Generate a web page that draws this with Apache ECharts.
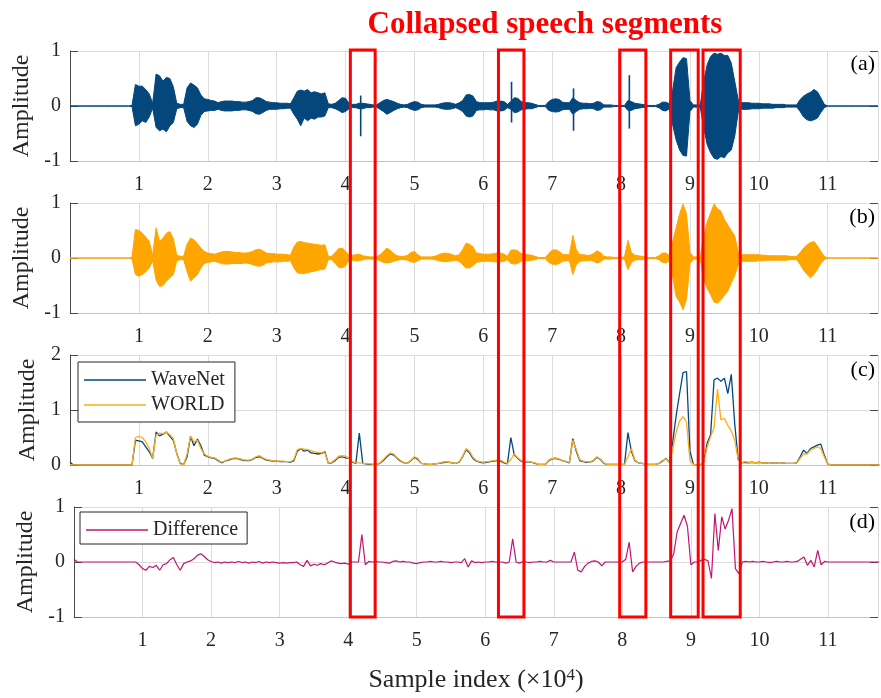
<!DOCTYPE html>
<html>
<head>
<meta charset="utf-8">
<script src="https://cdn.jsdelivr.net/npm/echarts@6/dist/echarts.min.js"></script>
<style>
  html, body { margin: 0; padding: 0; background: #fff; }
  #chart { width: 881px; height: 698px; }
</style>
</head>
<body>
<div id="chart"></div>
<script>
// Envelopes and curves are sampled every STEP (in units of 10^4 samples), starting at 0.
const STEP = 0.05;
const X_MAX = 11.73;

// (a) WaveNet waveform: upper / lower envelope
const A_TOP = [
  0,0,0,0,0,0,0,0,0,0,0,0,0,0,0,0,0,0,0.01,0.39,
  0.36,0.36,0.30,0.22,0.05,0.58,0.55,0.45,0.52,0.50,0.35,0.05,0.03,0.03,0.33,0.42,0.38,0.33,0.20,0.13,
  0.12,0.10,0.09,0.06,0.08,0.09,0.09,0.09,0.08,0.08,0.07,0.07,0.08,0.10,0.15,0.15,0.12,0.08,0.07,0.06,
  0.06,0.05,0.05,0.05,0.04,0.15,0.27,0.29,0.27,0.30,0.24,0.26,0.24,0.22,0.24,0.04,0.03,0.05,0.10,0.15,
  0.14,0.05,0.03,0.03,0.05,0.05,0.04,0.03,0.02,0.02,0.06,0.10,0.12,0.10,0.08,0.05,0.03,0.02,0.03,0.06,
  0.08,0.07,0.03,0.02,0.02,0.02,0.02,0.03,0.05,0.06,0.06,0.05,0.03,0.06,0.10,0.20,0.21,0.18,0.08,0.06,
  0.06,0.06,0.06,0.07,0.09,0.09,0.08,0.03,0.08,0.15,0.14,0.08,0.06,0.06,0.05,0.03,0.01,0.01,0.01,0.08,
  0.12,0.13,0.12,0.07,0.06,0.06,0.15,0.10,0.06,0.05,0.05,0.04,0.05,0.08,0.07,0.02,0.02,0.02,0.01,0.01,
  0.01,0.01,0.10,0.08,0.05,0.04,0.03,0.02,0.01,0.01,0.01,0.03,0.07,0.07,0.04,0.30,0.70,0.80,0.88,0.86,
  0.10,0.02,0.02,0.02,0.45,0.75,0.90,0.96,0.94,0.96,0.92,0.92,0.78,0.45,0.12,0.06,0.06,0.06,0.05,0.05,
  0.05,0.04,0.04,0.04,0.03,0.03,0.03,0.03,0.02,0.02,0.02,0.02,0.12,0.18,0.22,0.25,0.30,0.26,0.15,0.03,
  0,0,0,0,0,0,0,0,0,0,0,0,0,0,0,0
];
const A_BOT = [
  0,0,0,0,0,0,0,0,0,0,0,0,0,0,0,0,0,0,-0.01,-0.36,
  -0.33,-0.27,-0.30,-0.20,-0.04,-0.39,-0.45,-0.42,-0.47,-0.36,-0.30,-0.05,-0.03,-0.03,-0.28,-0.36,-0.39,-0.33,-0.17,-0.10,
  -0.09,-0.08,-0.08,-0.06,-0.08,-0.09,-0.09,-0.09,-0.08,-0.08,-0.07,-0.07,-0.08,-0.10,-0.14,-0.15,-0.12,-0.08,-0.06,-0.06,
  -0.06,-0.05,-0.05,-0.04,-0.04,-0.15,-0.24,-0.36,-0.22,-0.27,-0.22,-0.24,-0.20,-0.20,-0.18,-0.03,-0.03,-0.05,-0.08,-0.12,
  -0.10,-0.05,-0.03,-0.03,-0.05,-0.05,-0.03,-0.03,-0.02,-0.02,-0.06,-0.10,-0.15,-0.12,-0.08,-0.05,-0.03,-0.02,-0.03,-0.06,
  -0.08,-0.07,-0.03,-0.02,-0.02,-0.02,-0.02,-0.03,-0.05,-0.06,-0.06,-0.05,-0.03,-0.06,-0.10,-0.18,-0.20,-0.18,-0.08,-0.07,
  -0.07,-0.06,-0.07,-0.07,-0.09,-0.09,-0.08,-0.03,-0.06,-0.12,-0.11,-0.07,-0.06,-0.05,-0.05,-0.03,-0.01,-0.01,-0.01,-0.08,
  -0.10,-0.11,-0.10,-0.07,-0.06,-0.06,-0.15,-0.10,-0.06,-0.05,-0.05,-0.04,-0.05,-0.08,-0.07,-0.02,-0.02,-0.02,-0.01,-0.01,
  -0.01,-0.01,-0.08,-0.08,-0.05,-0.04,-0.03,-0.02,-0.01,-0.01,-0.01,-0.03,-0.08,-0.09,-0.05,-0.35,-0.62,-0.80,-0.90,-0.91,
  -0.10,-0.02,-0.02,-0.02,-0.40,-0.70,-0.85,-0.95,-0.97,-0.92,-0.94,-0.85,-0.80,-0.55,-0.12,-0.06,-0.06,-0.06,-0.05,-0.05,
  -0.05,-0.04,-0.04,-0.04,-0.04,-0.03,-0.03,-0.03,-0.02,-0.02,-0.02,-0.02,-0.10,-0.20,-0.25,-0.27,-0.25,-0.22,-0.12,-0.03,
  0,0,0,0,0,0,0,0,0,0,0,0,0,0,0,0
];
// (a) isolated clicks: position, peak, trough
const A_CLICK_X = [4.22, 6.41, 7.31, 8.12];
const A_CLICK_TOP = [0.19, 0.44, 0.32, 0.56];
const A_CLICK_BOT = [-0.55, -0.30, -0.45, -0.41];

// (b) WORLD waveform: upper / lower envelope
const B_TOP = [
  0,0,0,0,0,0,0,0,0,0,0,0,0,0,0,0,0,0,0.01,0.52,
  0.50,0.45,0.38,0.30,0.05,0.55,0.30,0.36,0.45,0.48,0.35,0.05,0.03,0.03,0.25,0.36,0.33,0.26,0.18,0.12,
  0.09,0.08,0.07,0.09,0.11,0.12,0.12,0.11,0.10,0.10,0.09,0.09,0.10,0.12,0.15,0.16,0.13,0.09,0.08,0.08,
  0.07,0.07,0.07,0.06,0.05,0.20,0.29,0.30,0.28,0.27,0.26,0.25,0.24,0.23,0.24,0.03,0.03,0.10,0.17,0.18,
  0.12,0.06,0.05,0.06,0.07,0.04,0.03,0.02,0.02,0.02,0.06,0.12,0.18,0.14,0.08,0.04,0.03,0.03,0.05,0.10,
  0.12,0.06,0.02,0.02,0.02,0.02,0.03,0.06,0.08,0.09,0.08,0.06,0.04,0.06,0.15,0.27,0.25,0.20,0.09,0.08,
  0.07,0.07,0.07,0.08,0.09,0.09,0.07,0.03,0.14,0.15,0.13,0.08,0.07,0.06,0.05,0.03,0.01,0.01,0.01,0.08,
  0.14,0.15,0.12,0.07,0.06,0.06,0.41,0.15,0.06,0.06,0.05,0.05,0.08,0.13,0.10,0.03,0.02,0.02,0.01,0.01,
  0.01,0.02,0.32,0.10,0.05,0.04,0.03,0.02,0.01,0.01,0.01,0.04,0.09,0.09,0.05,0.30,0.55,0.80,0.98,0.80,
  0.10,0.02,0.02,0.02,0.40,0.65,0.82,0.98,0.90,0.85,0.70,0.60,0.50,0.40,0.12,0.06,0.06,0.06,0.06,0.06,
  0.06,0.05,0.05,0.04,0.04,0.04,0.04,0.04,0.04,0.03,0.03,0.03,0.10,0.18,0.24,0.28,0.30,0.22,0.12,0.03,
  0,0,0,0,0,0,0,0,0,0,0,0,0,0,0,0
];
const B_BOT = [
  0,0,0,0,0,0,0,0,0,0,0,0,0,0,0,0,0,0,-0.01,-0.30,
  -0.33,-0.30,-0.25,-0.18,-0.05,-0.40,-0.52,-0.50,-0.42,-0.36,-0.30,-0.05,-0.03,-0.03,-0.25,-0.42,-0.36,-0.30,-0.18,-0.10,
  -0.08,-0.07,-0.06,-0.08,-0.10,-0.11,-0.11,-0.10,-0.10,-0.10,-0.10,-0.09,-0.10,-0.12,-0.14,-0.15,-0.13,-0.09,-0.08,-0.07,
  -0.07,-0.07,-0.06,-0.06,-0.05,-0.18,-0.27,-0.28,-0.28,-0.27,-0.25,-0.24,-0.22,-0.21,-0.20,-0.03,-0.03,-0.10,-0.17,-0.18,
  -0.14,-0.05,-0.04,-0.05,-0.05,-0.03,-0.02,-0.02,-0.02,-0.02,-0.05,-0.08,-0.09,-0.08,-0.06,-0.04,-0.03,-0.03,-0.04,-0.07,
  -0.08,-0.05,-0.02,-0.02,-0.02,-0.02,-0.03,-0.05,-0.06,-0.07,-0.06,-0.05,-0.04,-0.06,-0.12,-0.18,-0.18,-0.14,-0.08,-0.07,
  -0.06,-0.06,-0.06,-0.07,-0.07,-0.07,-0.06,-0.03,-0.10,-0.11,-0.10,-0.06,-0.05,-0.05,-0.04,-0.03,-0.01,-0.01,-0.01,-0.08,
  -0.11,-0.12,-0.10,-0.06,-0.05,-0.05,-0.30,-0.12,-0.06,-0.05,-0.05,-0.04,-0.06,-0.09,-0.07,-0.02,-0.02,-0.02,-0.01,-0.01,
  -0.01,-0.02,-0.21,-0.08,-0.04,-0.03,-0.03,-0.02,-0.01,-0.01,-0.01,-0.03,-0.08,-0.09,-0.05,-0.35,-0.70,-0.80,-0.94,-0.75,
  -0.10,-0.02,-0.02,-0.02,-0.40,-0.55,-0.67,-0.80,-0.82,-0.76,-0.68,-0.60,-0.45,-0.32,-0.12,-0.06,-0.06,-0.06,-0.06,-0.06,
  -0.05,-0.05,-0.04,-0.04,-0.04,-0.04,-0.04,-0.04,-0.04,-0.03,-0.03,-0.03,-0.12,-0.22,-0.30,-0.36,-0.30,-0.20,-0.10,-0.03,
  0,0,0,0,0,0,0,0,0,0,0,0,0,0,0,0
];

// (c) amplitude envelopes of both vocoders
const WAVENET = [
  0.05,0,0,0,0,0,0,0,0,0,0,0,0,0,0,0,0,0,0,0.45,
  0.44,0.42,0.33,0.24,0.12,0.60,0.53,0.56,0.60,0.52,0.45,0.21,0.03,0.01,0.15,0.52,0.35,0.47,0.35,0.18,
  0.15,0.13,0.12,0.08,0.04,0.07,0.09,0.11,0.12,0.11,0.09,0.08,0.08,0.10,0.14,0.15,0.12,0.09,0.08,0.07,
  0.07,0.06,0.06,0.06,0.05,0.08,0.25,0.30,0.25,0.27,0.22,0.21,0.20,0.21,0.24,0.03,0.04,0.08,0.14,0.15,
  0.13,0.12,0.05,0.03,0.58,0.03,0.02,0.01,0.01,0.01,0.03,0.08,0.15,0.20,0.18,0.12,0.07,0.04,0.03,0.08,
  0.14,0.10,0.03,0.02,0.01,0.01,0.02,0.03,0.04,0.05,0.05,0.04,0.03,0.05,0.15,0.28,0.22,0.12,0.07,0.05,
  0.04,0.05,0.06,0.07,0.08,0.07,0.04,0.02,0.50,0.18,0.12,0.07,0.05,0.06,0.05,0.03,0.01,0.01,0.01,0.08,
  0.11,0.12,0.10,0.08,0.06,0.04,0.48,0.25,0.08,0.06,0.05,0.05,0.08,0.14,0.10,0.03,0.01,0.01,0.01,0.01,
  0.01,0.01,0.59,0.25,0.08,0.04,0.03,0.02,0.01,0.01,0.01,0.03,0.07,0.12,0.05,0.42,0.90,1.30,1.68,1.70,
  0.25,0.01,0,0,0.05,0.40,0.55,1.55,1.58,1.52,1.58,1.30,1.65,0.75,0.10,0.04,0.05,0.04,0.05,0.04,
  0.05,0.04,0.04,0.03,0.04,0.04,0.03,0.04,0.03,0.03,0.03,0.04,0.15,0.27,0.21,0.30,0.33,0.36,0.38,0.18,
  0.02,0,0,0,0,0,0,0,0,0,0,0,0,0,0,0
];
const WORLD = [
  0,0,0,0,0,0,0,0,0,0,0,0,0,0,0,0,0,0,0,0.50,
  0.52,0.50,0.42,0.30,0.12,0.55,0.58,0.57,0.60,0.55,0.48,0.20,0.02,0.01,0.20,0.53,0.42,0.45,0.30,0.20,
  0.16,0.14,0.13,0.09,0.05,0.07,0.10,0.12,0.13,0.12,0.10,0.09,0.09,0.11,0.15,0.17,0.13,0.10,0.09,0.08,
  0.07,0.07,0.07,0.06,0.06,0.10,0.28,0.30,0.29,0.28,0.26,0.24,0.23,0.22,0.22,0.03,0.05,0.10,0.16,0.17,
  0.16,0.12,0.06,0.04,0.04,0.03,0.03,0.02,0.01,0.01,0.04,0.10,0.17,0.22,0.20,0.13,0.08,0.04,0.03,0.09,
  0.15,0.12,0.03,0.02,0.01,0.01,0.02,0.03,0.05,0.06,0.05,0.04,0.03,0.06,0.16,0.30,0.25,0.14,0.08,0.06,
  0.05,0.06,0.07,0.08,0.09,0.09,0.05,0.03,0.10,0.20,0.13,0.08,0.06,0.07,0.05,0.04,0.01,0.01,0.01,0.09,
  0.12,0.13,0.11,0.08,0.06,0.05,0.45,0.28,0.10,0.07,0.06,0.05,0.09,0.15,0.11,0.04,0.01,0.01,0.01,0.01,
  0.01,0.01,0.15,0.30,0.09,0.04,0.03,0.02,0.01,0.01,0.01,0.03,0.08,0.11,0.05,0.28,0.60,0.80,0.88,0.78,
  0.08,0.01,0,0,0.05,0.32,0.52,0.68,1.38,0.82,0.85,0.72,0.62,0.45,0.10,0.04,0.06,0.05,0.05,0.04,
  0.05,0.04,0.04,0.03,0.04,0.04,0.03,0.04,0.03,0.03,0.03,0.04,0.12,0.20,0.20,0.27,0.30,0.33,0.30,0.15,
  0.02,0,0,0,0,0,0,0,0,0,0,0,0,0,0,0
];

// (d) difference between the two envelopes
const DIFFERENCE = [
  0.05,0,0,0,0,0,0,0,0,0,0,0,0,0,0,0,0,0,0,-0.05,
  -0.12,-0.15,-0.08,-0.10,-0.06,-0.15,-0.05,-0.03,0.04,0.08,-0.05,-0.15,-0.03,0,0.02,0.06,0.12,0.15,0.10,0.04,
  0.01,-0.01,0,-0.02,0,-0.01,0,-0.01,0.01,-0.01,0,-0.02,0,-0.01,0.01,-0.02,0,-0.01,0,-0.01,
  -0.02,-0.01,-0.02,-0.01,-0.01,0,-0.05,-0.08,0.03,-0.07,-0.04,-0.06,-0.03,-0.05,-0.02,0.02,0,-0.02,-0.03,-0.02,
  -0.04,0,0,0,0.50,-0.05,0.01,0,0.01,0,0,-0.01,-0.02,0.01,0.02,0,0.01,0,0,-0.02,
  -0.03,-0.01,0,0,0.01,0,0,0.01,0,0,-0.01,0,0,-0.01,0.06,-0.09,0.02,-0.01,0,-0.01,
  0,0,0.01,0,0,0,-0.02,0,0.42,0,-0.02,0.01,0,-0.01,0,0,0.01,0,0,0.03,
  0,0,0,0,0,0,0.18,-0.15,-0.18,-0.08,-0.02,0.01,0.02,0,-0.07,0,0,0,0,0,
  0,0.05,0.36,-0.18,-0.08,-0.02,0,0,0,0,0,0,0,0.01,0.02,0.15,0.55,0.70,0.85,0.65,
  -0.05,0,0,0.03,0.05,0.02,-0.30,0.88,0.21,0.82,0.60,0.76,0.97,-0.12,-0.21,0,0.01,0,0.01,0,
  0,0.01,0,-0.01,0,0.01,0,0,0.01,0,0,0.01,0.05,0.09,-0.06,0.03,-0.09,0.21,-0.05,0.01,
  0,0,0,0,0,0,0,0,0,0,0,0,0,0,0,0
];

// Collapsed speech segments, as [start, end] in units of 10^4 samples
const COLLAPSED = [[4.07, 4.43], [6.22, 6.59], [7.98, 8.36], [8.72, 9.12], [9.19, 9.73]];

const PANEL_TAGS = ['(a)', '(b)', '(c)', '(d)'];
const Y_RANGES = [[-1, 1], [-1, 1], [0, 2], [-1, 1]];

const FONT = "'Liberation Serif','Times New Roman',serif";
const INK = '#262626';
const AXIS_DARK = '#4a4a4a';
const GRID_GRAY = '#dcdcdc';
const BLUE = '#03477d';
const ORANGE = '#ffa500';
const MAGENTA = '#bf1670';

const GRIDS = [
  { left: 70, top: 51, width: 814, height: 110 },
  { left: 70, top: 203, width: 814, height: 110 },
  { left: 70, top: 355, width: 814, height: 110 },
  { left: 74, top: 507, width: 810, height: 110 }
];
const NAME_GAPS = [32, 32, 23, 33];

const toPairs = arr => arr.map((v, i) => [+(i * STEP).toFixed(2), v]);

const xAxes = GRIDS.map((g, i) => ({
  gridIndex: i, type: 'value', min: 0, max: X_MAX, interval: 1,
  axisLine: { show: true, onZero: false, lineStyle: { color: '#c4c4c4', width: 1 } },
  axisTick: { show: false },
  axisLabel: {
    margin: 14, color: INK, fontFamily: FONT, fontSize: 20,
    formatter: v => (v > 0 && Number.isInteger(v)) ? String(v) : ''
  },
  splitLine: { show: true, lineStyle: { color: GRID_GRAY, width: 1 } },
  name: i === 3 ? 'Sample index (×10{sup|4})' : '',
  nameLocation: 'middle', nameGap: 50,
  nameTextStyle: {
    fontSize: 26, color: INK, fontFamily: FONT,
    rich: { sup: { fontSize: 17, color: INK, fontFamily: FONT, verticalAlign: 'top', padding: [0, 0, 9, 0] } }
  }
}));

const leftY = GRIDS.map((g, i) => ({
  gridIndex: i, type: 'value', min: Y_RANGES[i][0], max: Y_RANGES[i][1], interval: 1, position: 'left',
  axisLine: { show: true, onZero: false, lineStyle: { color: AXIS_DARK, width: 1 } },
  axisTick: { show: true, inside: true, length: 8, lineStyle: { color: AXIS_DARK } },
  axisLabel: { margin: 9, color: INK, fontFamily: FONT, fontSize: 20 },
  splitLine: { show: true, lineStyle: { color: GRID_GRAY, width: 1 } },
  name: 'Amplitude', nameLocation: 'middle', nameGap: NAME_GAPS[i],
  nameTextStyle: { fontSize: 24, color: INK, fontFamily: FONT }
}));

const rightY = GRIDS.map((g, i) => ({
  gridIndex: i, type: 'value', min: Y_RANGES[i][0], max: Y_RANGES[i][1], interval: 1, position: 'right',
  axisLine: { show: false, onZero: false },
  axisTick: { show: true, inside: true, length: 8, lineStyle: { color: AXIS_DARK } },
  axisLabel: { show: false },
  splitLine: { show: false }
}));

// Filled waveform: polygon between the upper and lower envelope
function waveformSeries(name, gridIdx, top, bot, color) {
  return {
    type: 'custom', name, xAxisIndex: gridIdx, yAxisIndex: gridIdx,
    coordinateSystem: 'cartesian2d', clip: true, silent: true,
    data: [[0, 0]],
    renderItem: (params, api) => {
      const pts = [];
      for (let i = 0; i < top.length; i++) pts.push(api.coord([i * STEP, top[i]]));
      for (let i = bot.length - 1; i >= 0; i--) pts.push(api.coord([i * STEP, bot[i]]));
      return {
        type: 'polygon', shape: { points: pts },
        style: { fill: color, stroke: color, lineWidth: 1, lineJoin: 'round' }
      };
    }
  };
}

// Thin vertical strokes for isolated clicks in a waveform
function clickSeries(name, gridIdx, xs, tops, bots, color) {
  return {
    type: 'custom', name, xAxisIndex: gridIdx, yAxisIndex: gridIdx,
    coordinateSystem: 'cartesian2d', clip: true, silent: true,
    data: xs.map((x, i) => [x, tops[i], bots[i]]),
    encode: { x: 0, y: [1, 2] },
    renderItem: (params, api) => {
      const a = api.coord([api.value(0), api.value(1)]);
      const b = api.coord([api.value(0), api.value(2)]);
      return {
        type: 'line', shape: { x1: a[0], y1: a[1], x2: b[0], y2: b[1] },
        style: { stroke: color, lineWidth: 1.6 }
      };
    }
  };
}

function lineSeries(name, gridIdx, values, color, width) {
  return {
    type: 'line', name, xAxisIndex: gridIdx, yAxisIndex: gridIdx,
    data: toPairs(values), symbol: 'none', showSymbol: false, silent: true,
    lineStyle: { color, width }, itemStyle: { color }, clip: true
  };
}

const chart = echarts.init(document.getElementById('chart'), null, { renderer: 'canvas' });

const legendCommon = {
  orient: 'vertical', icon: 'rect', itemWidth: 62, itemHeight: 1.5, itemGap: 5, itemTextGap: 6,
  backgroundColor: '#fff', borderColor: INK, borderWidth: 1, borderRadius: 0,
  textStyle: { fontSize: 20, color: INK, fontFamily: FONT },
  selectedMode: false
};

chart.setOption({
  animation: false,
  backgroundColor: '#fff',
  grid: GRIDS,
  xAxis: xAxes,
  yAxis: leftY.concat(rightY),
  legend: [
    Object.assign({}, legendCommon, { data: ['WaveNet', 'WORLD'], left: 78, top: 362, padding: [8, 10, 7, 6] }),
    Object.assign({}, legendCommon, { data: ['Difference'], left: 80, top: 512, padding: [8, 9, 4, 6] })
  ],
  series: [
    waveformSeries('waveA', 0, A_TOP, A_BOT, BLUE),
    clickSeries('clicksA', 0, A_CLICK_X, A_CLICK_TOP, A_CLICK_BOT, BLUE),
    waveformSeries('waveB', 1, B_TOP, B_BOT, ORANGE),
    lineSeries('WaveNet', 2, WAVENET, BLUE, 1.3),
    lineSeries('WORLD', 2, WORLD, '#fdae1a', 1.3),
    lineSeries('Difference', 3, DIFFERENCE, MAGENTA, 1.2)
  ]
});

// Annotations: title, panel tags and the red boxes spanning all four panels
const graphics = [{
  type: 'text', z: 100,
  style: {
    text: 'Collapsed speech segments', x: 545, y: 25,
    font: 'bold 31px ' + FONT, fill: '#ff0000', align: 'center', verticalAlign: 'middle'
  }
}];
const tagY = [64, 217, 370, 522];
PANEL_TAGS.forEach((t, i) => {
  graphics.push({
    type: 'text', z: 100,
    style: { text: t, x: 875, y: tagY[i], font: '22px ' + FONT, fill: '#000', align: 'right', verticalAlign: 'middle' }
  });
});
COLLAPSED.forEach(([x0, x1]) => {
  const p0 = chart.convertToPixel({ xAxisIndex: 0, yAxisIndex: 0 }, [x0, Y_RANGES[0][1]]);
  const p1 = chart.convertToPixel({ xAxisIndex: 0, yAxisIndex: 0 }, [x1, Y_RANGES[0][1]]);
  const pb = chart.convertToPixel({ xAxisIndex: 3, yAxisIndex: 3 }, [x0, Y_RANGES[3][0]]);
  graphics.push({
    type: 'rect', z: 120,
    shape: { x: p0[0], y: p0[1] - 1, width: p1[0] - p0[0], height: pb[1] - p0[1] + 1 },
    style: { fill: 'none', stroke: '#ff0000', lineWidth: 3 }
  });
});
chart.setOption({ graphic: graphics });
</script>
</body>
</html>
